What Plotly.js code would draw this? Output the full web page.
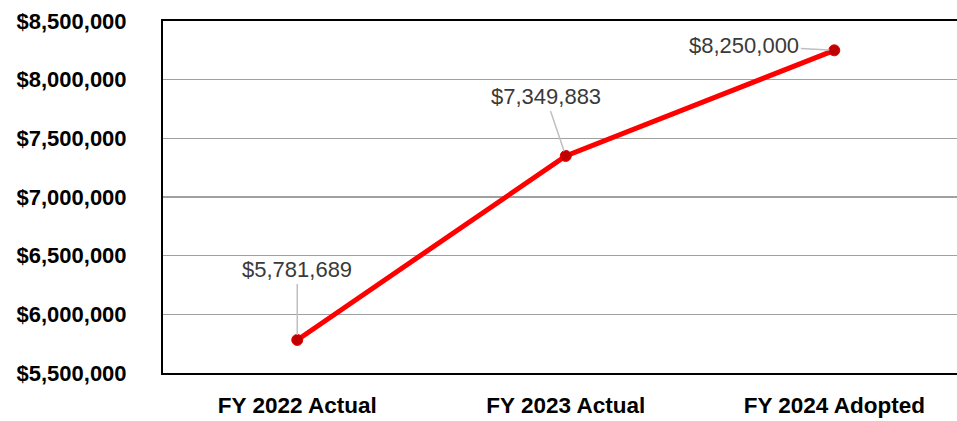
<!DOCTYPE html>
<html>
<head>
<meta charset="utf-8">
<script src="https://cdn.plot.ly/plotly-3.0.1.min.js"></script>
<style>html,body{margin:0;padding:0;background:#fff;}#chart{width:957px;height:421px;}</style>
</head>
<body>
<div id="chart"></div>
<script>
const categories = ["FY 2022 Actual", "FY 2023 Actual", "FY 2024 Adopted"];
const values = [5781689, 7349883, 8250000];
const labels = ["$5,781,689", "$7,349,883", "$8,250,000"];
const tickValues = [5500000, 6000000, 6500000, 7000000, 7500000, 8000000, 8500000];
const labelOffsets = [[0, -70], [-20, -59], [-90, -5]];

const trace = {
  x: categories,
  y: values,
  type: 'scatter',
  mode: 'lines+markers',
  line: {color: '#ff0000', width: 5},
  marker: {color: '#c00000', size: 11, line: {color: '#e00000', width: 1}},
  hoverinfo: 'skip'
};

const annotations = categories.map((c, i) => ({
  x: c, y: values[i], xref: 'x', yref: 'y',
  text: labels[i],
  showarrow: true, arrowhead: 0, arrowwidth: 1.5, arrowcolor: '#bfbfbf',
  ax: labelOffsets[i][0], ay: labelOffsets[i][1],
  standoff: 5,
  font: {family: 'Liberation Sans, Arial, sans-serif', size: 22, color: '#3a3a3a'}
}));

const layout = {
  width: 957, height: 421,
  margin: {l: 163, r: 0, t: 21, b: 48},
  paper_bgcolor: '#ffffff', plot_bgcolor: '#ffffff',
  showlegend: false,
  xaxis: {
    type: 'category',
    range: [-0.5, 2.457],
    showgrid: false, zeroline: false,
    showline: true, mirror: true, linecolor: '#000000', linewidth: 2,
    ticks: '', ticklabelstandoff: 11,
    tickfont: {family: 'Liberation Sans, Arial, sans-serif', size: 22.5, color: '#000000', weight: 'bold'}
  },
  yaxis: {
    range: [5500000, 8500000],
    tickvals: tickValues,
    tickformat: '$,.0f',
    showgrid: true, gridcolor: '#a0a0a0', gridwidth: 1.5,
    zeroline: false,
    showline: true, linecolor: '#000000', linewidth: 2,
    ticks: '', ticklabelstandoff: 30,
    tickfont: {family: 'Liberation Sans, Arial, sans-serif', size: 22, color: '#000000', weight: 'bold'}
  },
  annotations: annotations
};

Plotly.newPlot('chart', [trace], layout, {displayModeBar: false, staticPlot: true});
</script>
</body>
</html>
